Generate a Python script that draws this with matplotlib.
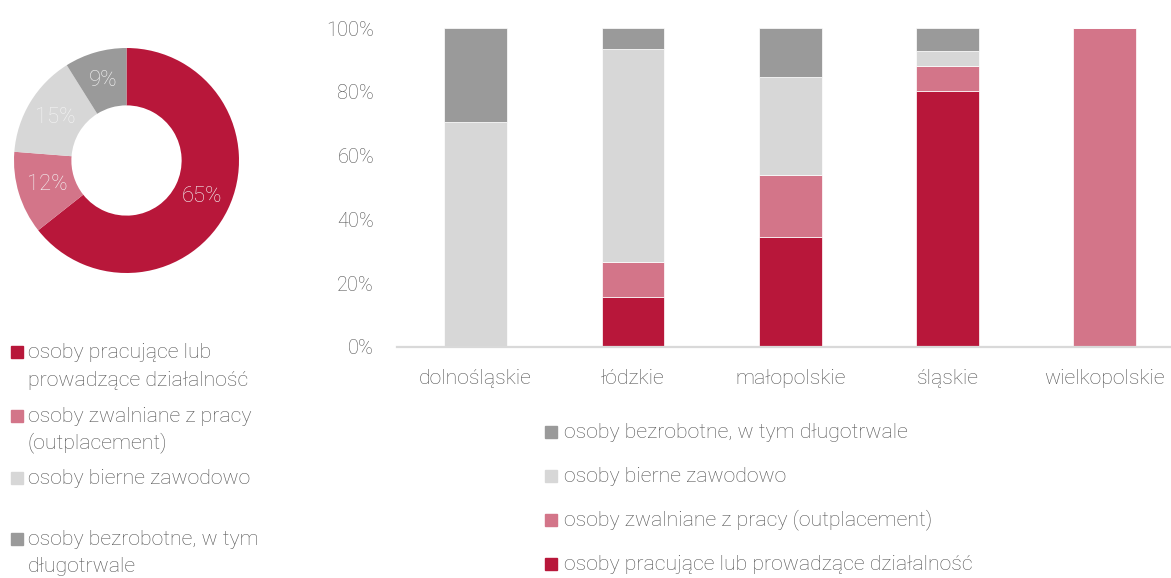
import matplotlib
matplotlib.use("Agg")
import matplotlib.pyplot as plt
from matplotlib.patches import Rectangle
import numpy as np

plt.rcParams['font.family'] = ['Roboto', 'DejaVu Sans']
plt.rcParams['font.weight'] = 'light'

# ---- data ----
series = ["osoby pracujące lub prowadzące działalność",
          "osoby zwalniane z pracy (outplacement)",
          "osoby bierne zawodowo",
          "osoby bezrobotne, w tym długotrwale"]
left_legend_lines = [["osoby pracujące lub", "prowadzące działalność"],
                     ["osoby zwalniane z pracy", "(outplacement)"],
                     ["osoby bierne zawodowo"],
                     ["osoby bezrobotne, w tym", "długotrwale"]]
donut_values = [65, 12, 15, 9]

regions = ["dolnośląskie", "łódzkie", "małopolskie", "śląskie", "wielkopolskie"]
pracujace = [0.0, 15.6, 34.6, 80.4, 0.0]
zwalniane = [0.0, 11.1, 19.2, 7.7, 100.0]
bierne = [70.5, 66.7, 30.8, 4.7, 0.0]
bezrobotne = [29.5, 6.6, 15.4, 7.2, 0.0]
yticks = [0, 20, 40, 60, 80, 100]

colors = ["#B8173A", "#D37589", "#D7D7D7", "#9A9A9A"]
text_col = "#535353"
FS = 15.3

W, H = 1171, 578
fig = plt.figure(figsize=(W / 100, H / 100), dpi=100)

# ---- donut ----
cx, cy, r = 126.5, 160.5, 112.5
axd = fig.add_axes([(cx - r) / W, 1 - (cy + r) / H, 2 * r / W, 2 * r / H])
total = sum(donut_values)
axd.pie(donut_values, colors=colors, startangle=90, counterclock=False,
        radius=1.0, wedgeprops=dict(width=0.51, linewidth=0),
        autopct=lambda p: f"{round(p * total / 100)}%", pctdistance=0.74,
        textprops=dict(color="#F4F4F4", fontsize=15.8, fontweight='light'))
axd.set_xlim(-1, 1)
axd.set_ylim(-1, 1)
axd.set_aspect('auto')
axd.axis('off')

# ---- stacked bars ----
ax = fig.add_axes([397 / W, 1 - 347 / H, (W - 397) / W, (347 - 28) / H])
x = np.arange(len(regions))
stack = [pracujace, zwalniane, bierne, bezrobotne]
bottom = np.zeros(len(regions))
for vals, c in zip(stack, colors):
    v = np.array(vals)
    ax.bar(x, v, 0.4, bottom=bottom, color=c, edgecolor='white', linewidth=0.5, zorder=2)
    bottom += v
ax.set_ylim(0, 100)
ax.set_xlim(-0.5, (W - 475.7) / 157.3)
ax.set_yticks(yticks)
ax.set_yticklabels([f"{t}%" for t in yticks])
ax.set_xticks(x)
ax.set_xticklabels(regions)
for s in ['top', 'right', 'left']:
    ax.spines[s].set_visible(False)
ax.spines['bottom'].set_color('#D9D9D9')
ax.spines['bottom'].set_linewidth(1.6)
ax.tick_params(axis='both', length=0, colors=text_col)
ax.tick_params(axis='y', labelsize=14.3, pad=16.5)
ax.tick_params(axis='x', labelsize=FS, pad=15.5)

# ---- left legend ----
left_baselines = [[358, 385.5], [421.5, 448.5], [484], [545, 572]]
for idx, (lines, bases) in enumerate(zip(left_legend_lines, left_baselines)):
    sq = 12
    yc = bases[0] - 6
    fig.patches.append(Rectangle((11 / W, 1 - (yc + sq / 2) / H), sq / W, sq / H,
                                 transform=fig.transFigure, color=colors[idx]))
    for line, b in zip(lines, bases):
        fig.text(28 / W, 1 - b / H, line, fontsize=FS, color=text_col,
                 va='baseline', ha='left')

# ---- bottom legend ----
bottom_items = [(3, 437.5), (2, 481.5), (1, 525.5), (0, 569.5)]
for idx, b in bottom_items:
    sq = 12
    yc = b - 6
    fig.patches.append(Rectangle((545 / W, 1 - (yc + sq / 2) / H), sq / W, sq / H,
                                 transform=fig.transFigure, color=colors[idx]))
    fig.text(564 / W, 1 - b / H, series[idx], fontsize=FS, color=text_col,
             va='baseline', ha='left')

fig.savefig("out.png", dpi=100)
